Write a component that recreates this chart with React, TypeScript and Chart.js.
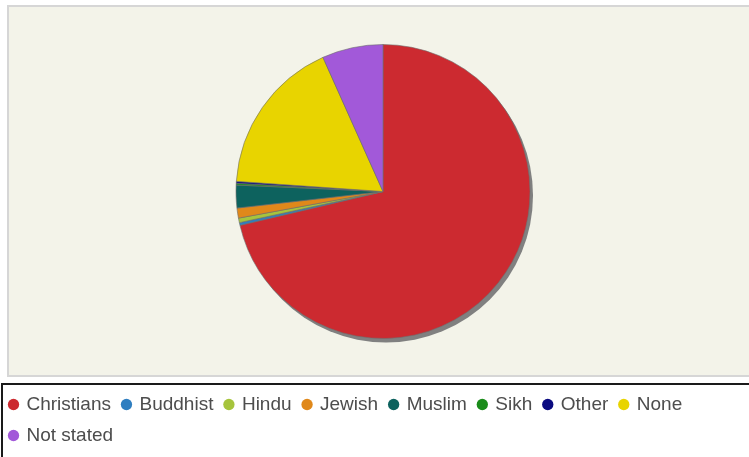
import React, { useEffect, useRef } from 'react';
import { Chart, registerables } from 'chart.js';

Chart.register(...registerables);

const categories = ['Christians', 'Buddhist', 'Hindu', 'Jewish', 'Muslim', 'Sikh', 'Other', 'None', 'Not stated'];
const values = [71.3, 0.3, 0.5, 1.1, 2.5, 0.2, 0.2, 17.2, 6.7];
const colors = ['#cc2a30', '#2f7ec0', '#a6c43c', '#e0881a', '#0d625e', '#1a8c1a', '#0a0a80', '#e8d400', '#a259d9'];

const SHIFT = 2;
const CANVAS_W = 770;
const CANVAS_H = 457;

const backdropPlugin = {
  id: 'backdrop',
  beforeDraw(chart: any) {
    const ctx = chart.ctx;
    ctx.save();
    ctx.fillStyle = '#ffffff';
    ctx.fillRect(0, 0, chart.width, chart.height);
    ctx.fillStyle = '#d6d6d6';
    ctx.fillRect(7 + SHIFT, 5, 1000, 372);
    ctx.fillStyle = '#f3f3e9';
    ctx.fillRect(9 + SHIFT, 7, 1000, 368);
    ctx.strokeStyle = '#1a1a1a';
    ctx.lineWidth = 2;
    ctx.strokeRect(2 + SHIFT, 384, 1000, 200);
    ctx.restore();
  },
  beforeDatasetsDraw(chart: any) {
    const meta = chart.getDatasetMeta(0);
    if (!meta || !meta.data.length) return;
    const arc = meta.data[0];
    const { x, y, outerRadius } = arc.getProps(['x', 'y', 'outerRadius'], true);
    const ctx = chart.ctx;
    ctx.save();
    ctx.fillStyle = '#808080';
    ctx.beginPath();
    ctx.arc(x + 3, y + 4, outerRadius, 0, Math.PI * 2);
    ctx.fill();
    ctx.restore();
  },
};

export default function App() {
  const canvasRef = useRef<HTMLCanvasElement | null>(null);

  useEffect(() => {
    if (!canvasRef.current) return;
    const baseGen = (Chart as any).overrides.pie.plugins.legend.labels.generateLabels;
    const chart = new Chart(canvasRef.current, {
      type: 'pie',
      data: {
        labels: categories,
        datasets: [
          {
            data: values,
            backgroundColor: colors,
            borderColor: 'rgba(110,110,110,0.6)',
            borderWidth: 1,
            radius: 147,
          } as any,
        ],
      },
      options: {
        responsive: false,
        animation: false,
        events: [],
        layout: { padding: { top: 0, bottom: 2, left: 0, right: 0 } },
        plugins: {
          title: { display: false },
          tooltip: { enabled: false },
          legend: {
            position: 'bottom',
            align: 'start',
            labels: {
              usePointStyle: true,
              pointStyle: 'circle',
              boxWidth: 7,
              boxHeight: 8,
              padding: 12,
              color: '#4d4d4d',
              font: { size: 19, family: "'Liberation Sans', Arial, sans-serif" },
              generateLabels: (c: any) =>
                baseGen(c).map((l: any) => ({ ...l, lineWidth: 0, strokeStyle: 'rgba(0,0,0,0)' })),
            },
          },
        },
      },
      plugins: [backdropPlugin],
    });
    return () => chart.destroy();
  }, []);

  return (
    <div
      style={{
        position: 'fixed',
        left: 0,
        top: 0,
        width: 749,
        height: 457,
        overflow: 'hidden',
        background: '#ffffff',
      }}
    >
      <canvas
        ref={canvasRef}
        width={CANVAS_W}
        height={CANVAS_H}
        style={{ position: 'absolute', left: -SHIFT, top: 0, width: CANVAS_W, height: CANVAS_H }}
      />
    </div>
  );
}
